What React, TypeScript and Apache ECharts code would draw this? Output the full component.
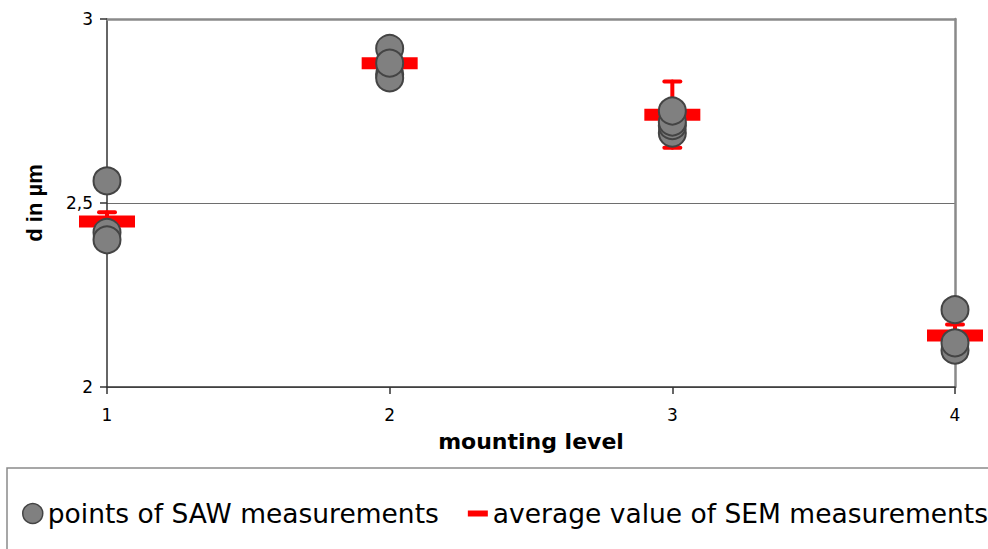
import React, { useEffect, useRef } from "react";
import * as echarts from "echarts";

// Mounting levels on the x axis
const levelTicks = [1, 2, 3, 4];

// SAW measurements: level and thickness d (µm) for every point, in drawing order
const sawLevel = [1, 1, 1, 2, 2, 2, 2, 3, 3, 3, 3, 4, 4, 4];
const sawThickness = [2.42, 2.4, 2.56, 2.85, 2.84, 2.92, 2.88, 2.69, 2.71, 2.72, 2.75, 2.1, 2.12, 2.21];

// SEM measurements: mean thickness and error per level
const semLevel = [1, 2, 3, 4];
const semMean = [2.45, 2.88, 2.74, 2.14];
const semError = [0.025, 0.03, 0.09, 0.03];

const SAW_NAME = "points of SAW measurements";
const SEM_NAME = "average value of SEM measurements";

const RED = "#ff0000";
const GREY_FILL = "#808080";
const GREY_EDGE = "#444444";
const FRAME = "#8a8a8a";

export default function App() {
  const ref = useRef<HTMLDivElement>(null);

  useEffect(() => {
    document.body.style.margin = "0";
    const chart = echarts.init(ref.current!, undefined, { renderer: "svg" });

    const sawData = sawLevel.map((lv, i) => [lv, sawThickness[i]]);
    const semData = semLevel.map((lv, i) => [lv, semMean[i], semError[i]]);

    chart.setOption({
      animation: false,
      backgroundColor: "#ffffff",
      grid: { left: 107, right: 33, top: 19, bottom: 162, containLabel: false },
      xAxis: [
        {
          type: "value",
          min: 1,
          max: 4,
          interval: 1,
          position: "bottom",
          axisLine: { show: true, onZero: false, lineStyle: { color: "#333333", width: 1.5 } },
          axisTick: { show: true, length: 7, inside: false, lineStyle: { color: "#333333", width: 1.5 } },
          axisLabel: {
            show: true,
            margin: 19,
            color: "#000000",
            fontFamily: "DejaVu Sans",
            fontSize: 17,
            formatter: (v: number) => (levelTicks.includes(v) ? String(v) : ""),
          },
          splitLine: { show: false },
          name: "mounting level",
          nameLocation: "middle",
          nameGap: 43,
          nameTextStyle: { color: "#000000", fontFamily: "DejaVu Sans", fontWeight: "bold", fontSize: 22 },
        },
        {
          type: "value",
          min: 1,
          max: 4,
          position: "top",
          axisLine: { show: true, onZero: false, lineStyle: { color: FRAME, width: 2.5 } },
          axisTick: { show: false },
          axisLabel: { show: false },
          splitLine: { show: false },
        },
      ],
      yAxis: [
        {
          type: "value",
          min: 2,
          max: 3,
          interval: 0.5,
          position: "left",
          axisLine: { show: true, onZero: false, lineStyle: { color: "#333333", width: 1.5 } },
          axisTick: { show: true, length: 7, inside: false, lineStyle: { color: "#333333", width: 1.5 } },
          axisLabel: {
            show: true,
            margin: 14,
            color: "#000000",
            fontFamily: "DejaVu Sans",
            fontSize: 17,
            formatter: (v: number) => String(v).replace(".", ","),
          },
          splitLine: { show: true, lineStyle: { color: "#6e6e6e", width: 1.2 } },
          name: "d in µm",
          nameLocation: "middle",
          nameGap: 62,
          nameTextStyle: { color: "#000000", fontFamily: "Liberation Sans", fontWeight: "bold", fontSize: 22 },
        },
        {
          type: "value",
          min: 2,
          max: 3,
          position: "right",
          axisLine: { show: true, onZero: false, lineStyle: { color: FRAME, width: 2.5 } },
          axisTick: { show: false },
          axisLabel: { show: false },
          splitLine: { show: false },
        },
      ],
      legend: {
        show: true,
        left: 22,
        top: 500,
        padding: 0,
        itemGap: 29,
        itemWidth: 20,
        itemHeight: 20,
        selectedMode: false,
        textStyle: { color: "#000000", fontFamily: "DejaVu Sans", fontSize: 26.5 },
        data: [
          {
            name: SAW_NAME,
            icon: "circle",
            itemStyle: { color: GREY_FILL, borderColor: GREY_EDGE, borderWidth: 1.5 },
          },
          {
            name: SEM_NAME,
            icon: "path://M0,0 h20 v6 h-20 z",
            itemStyle: { color: RED, borderWidth: 0 },
          },
        ],
      },
      graphic: [
        {
          type: "rect",
          shape: { x: 7, y: 468, width: 1000, height: 200 },
          style: { fill: "none", stroke: FRAME, lineWidth: 1.5 },
          silent: true,
          z: -1,
        },
      ],
      series: [
        {
          name: SEM_NAME,
          type: "custom",
          xAxisIndex: 0,
          yAxisIndex: 0,
          clip: false,
          z: 2,
          itemStyle: { color: RED },
          encode: { x: 0, y: 1 },
          data: semData,
          renderItem: (params: any, api: any) => {
            const lv = api.value(0);
            const mean = api.value(1);
            const err = api.value(2);
            const c = api.coord([lv, mean]);
            const hi = api.coord([lv, mean + err]);
            const lo = api.coord([lv, mean - err]);
            const capHalf = 8;
            const lineStyle = { stroke: RED, lineWidth: 4, lineCap: "round" };
            return {
              type: "group",
              children: [
                { type: "line", shape: { x1: c[0], y1: hi[1], x2: c[0], y2: lo[1] }, style: lineStyle },
                { type: "line", shape: { x1: c[0] - capHalf, y1: hi[1], x2: c[0] + capHalf, y2: hi[1] }, style: lineStyle },
                { type: "line", shape: { x1: c[0] - capHalf, y1: lo[1], x2: c[0] + capHalf, y2: lo[1] }, style: lineStyle },
                { type: "rect", shape: { x: c[0] - 28, y: c[1] - 6, width: 56, height: 12 }, style: { fill: RED } },
              ],
            };
          },
        },
        {
          name: SAW_NAME,
          type: "scatter",
          xAxisIndex: 0,
          yAxisIndex: 0,
          clip: false,
          z: 3,
          symbol: "circle",
          symbolSize: 27,
          itemStyle: { color: GREY_FILL, borderColor: GREY_EDGE, borderWidth: 2, opacity: 1 },
          emphasis: { disabled: true },
          data: sawData,
        },
      ],
    });

    return () => chart.dispose();
  }, []);

  return <div ref={ref} style={{ width: 988, height: 549 }} />;
}
